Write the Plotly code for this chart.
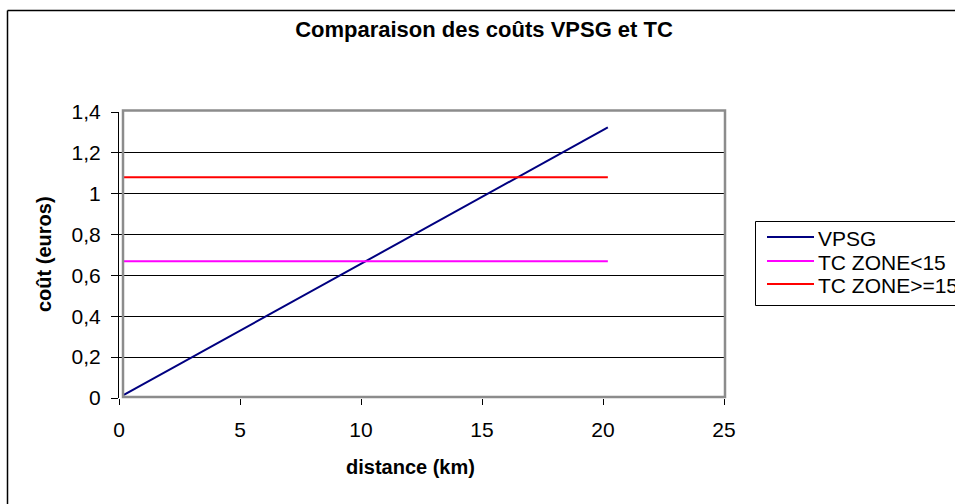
import plotly.graph_objects as go

# Cost per trip depending on distance travelled
distance_km = [0.2, 20.2]
cout_vpsg = [0.015, 1.325]
cout_tc_moins_15 = [0.67, 0.67]
cout_tc_plus_15 = [1.08, 1.08]

series = [
    ("VPSG", cout_vpsg, "#000080"),
    ("TC ZONE<15", cout_tc_moins_15, "#FF00FF"),
    ("TC ZONE>=15", cout_tc_plus_15, "#FF0000"),
]

x_ticks = [0, 5, 10, 15, 20, 25]
y_ticks = [0, 0.2, 0.4, 0.6, 0.8, 1, 1.2, 1.4]
y_tick_text = ["0", "0,2", "0,4", "0,6", "0,8", "1", "1,2", "1,4"]

W, H = 955, 504
L, R, T, B = 119, 231, 112, 106
PW, PH = W - L - R, H - T - B


def xp(px):
    """Pixel column -> paper x."""
    return (px - L) / PW


def yp(py):
    """Pixel row -> paper y."""
    return (H - B - py) / PH


FONT = "Liberation Sans, Arial, sans-serif"

fig = go.Figure()
for name, values, color in series:
    fig.add_trace(go.Scatter(
        x=distance_km, y=values, name=name, mode="lines",
        line=dict(color=color, width=2), showlegend=False,
    ))

annotations = [
    dict(text="<b>distance (km)</b>", xref="paper", yref="paper",
         x=xp(410), y=yp(467), xanchor="center", yanchor="middle",
         showarrow=False, font=dict(family=FONT, size=20)),
    dict(text="<b>coût (euros)</b>", xref="paper", yref="paper",
         x=xp(44), y=yp(254), xanchor="center", yanchor="middle",
         textangle=-90, showarrow=False, font=dict(family=FONT, size=20)),
]

shapes = [
    # plot-area frame
    dict(type="rect", xref="paper", yref="paper",
         x0=xp(123), x1=xp(725), y0=yp(397), y1=yp(110.5),
         line=dict(color="#8c8c8c", width=2.5), layer="above"),
    # chart border (top and left edges fall inside the page)
    dict(type="line", xref="paper", yref="paper",
         x0=xp(7.5), x1=xp(W), y0=yp(10.5), y1=yp(10.5),
         line=dict(color="black", width=1.5)),
    dict(type="line", xref="paper", yref="paper",
         x0=xp(7.5), x1=xp(7.5), y0=yp(10.5), y1=yp(H),
         line=dict(color="black", width=1.5)),
    # legend box, open on the right where the page ends
    dict(type="path", xref="paper", yref="paper",
         path=(f"M {xp(W)},{yp(221.5)} L {xp(755.5)},{yp(221.5)} "
               f"L {xp(755.5)},{yp(305.5)} L {xp(W)},{yp(305.5)}"),
         line=dict(color="black", width=1)),
]

# legend entries
legend_rows = [237, 261, 284]
for (name, _, color), row in zip(series, legend_rows):
    shapes.append(dict(type="line", xref="paper", yref="paper",
                       x0=xp(767), x1=xp(814), y0=yp(row), y1=yp(row),
                       line=dict(color=color, width=2)))
    annotations.append(dict(text=name, xref="paper", yref="paper",
                            x=xp(816), y=yp(row + 1), xanchor="left",
                            yanchor="middle", showarrow=False,
                            font=dict(family=FONT, size=21)))

fig.update_layout(
    width=W, height=H,
    margin=dict(l=L, r=R, t=T, b=B, autoexpand=False),
    paper_bgcolor="white",
    plot_bgcolor="white",
    font=dict(family=FONT, size=21, color="black"),
    title=dict(
        text="<b>Comparaison des coûts VPSG et TC</b>",
        x=484 / W, xanchor="center",
        y=1 - 29 / H, yanchor="middle",
        font=dict(family=FONT, size=22, color="black"),
    ),
    showlegend=False,
    xaxis=dict(
        range=[0, 25], tickvals=x_ticks, ticktext=[str(v) for v in x_ticks],
        showgrid=False, zeroline=False, showline=False,
        ticks="outside", ticklen=6, tickwidth=1, tickcolor="black",
        ticklabelstandoff=7,
        fixedrange=True,
    ),
    yaxis=dict(
        range=[0, 1.4], tickvals=y_ticks, ticktext=y_tick_text,
        showgrid=True, gridcolor="black", gridwidth=1,
        zeroline=False, showline=True, linecolor="black", linewidth=1,
        ticks="outside", ticklen=7, tickwidth=1, tickcolor="black",
        ticklabelstandoff=6,
        fixedrange=True,
    ),
    annotations=annotations,
    shapes=shapes,
)

fig.write_html("out.html")
